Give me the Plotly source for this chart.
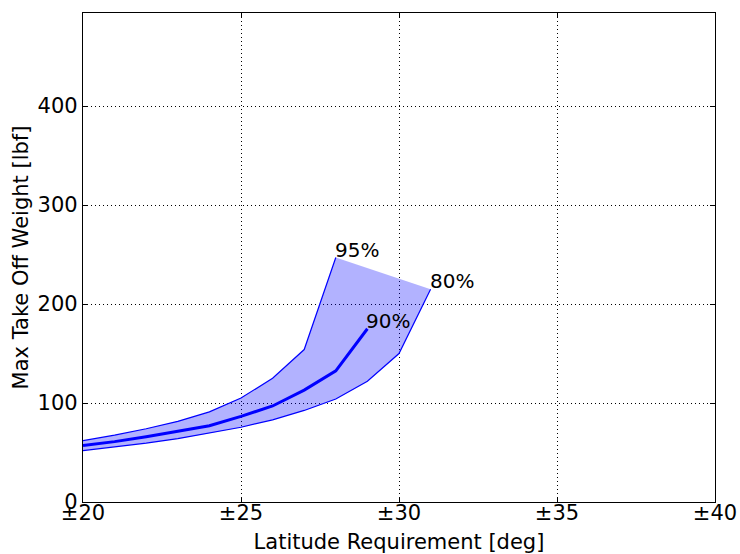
import plotly.graph_objects as go

# Max take-off weight vs. latitude requirement, for three confidence levels
lat_95 = [20, 21, 22, 23, 24, 25, 26, 27, 28]
mtow_95 = [62, 67.5, 74, 81.5, 91, 105, 125, 154, 247]

lat_90 = [20, 21, 22, 23, 24, 25, 26, 27, 28, 29]
mtow_90 = [57, 61, 66, 71.5, 77, 86.5, 97, 113, 132.5, 175]

lat_80 = [20, 21, 22, 23, 24, 25, 26, 27, 28, 29, 30, 31]
mtow_80 = [52, 55.5, 59.5, 64, 69.5, 75.5, 83, 92.5, 104, 122, 150, 215]

x_ticks = [20, 25, 30, 35, 40]
x_tick_labels = ["±20", "±25", "±30", "±35", "±40"]
y_ticks = [0, 100, 200, 300, 400]

BLUE = "#0000ff"
FONT = "DejaVu Sans"

fig = go.Figure()

# Shaded band between the 95% and 80% curves
fig.add_trace(go.Scatter(
    x=lat_95 + lat_80[::-1],
    y=mtow_95 + mtow_80[::-1],
    fill="toself",
    fillcolor="rgba(0,0,255,0.3)",
    line=dict(width=0),
    mode="lines",
    hoverinfo="skip",
    showlegend=False,
))

fig.add_trace(go.Scatter(x=lat_95, y=mtow_95, mode="lines",
                         line=dict(color=BLUE, width=1.2), showlegend=False))
fig.add_trace(go.Scatter(x=lat_80, y=mtow_80, mode="lines",
                         line=dict(color=BLUE, width=1.2), showlegend=False))
fig.add_trace(go.Scatter(x=lat_90, y=mtow_90, mode="lines",
                         line=dict(color=BLUE, width=3), showlegend=False))

# Confidence labels at the end of each curve
for xs, ys, label in [(lat_95, mtow_95, "95%"), (lat_80, mtow_80, "80%"), (lat_90, mtow_90, "90%")]:
    fig.add_annotation(x=xs[-1], y=ys[-1], text=label, showarrow=False,
                       xanchor="left", yanchor="bottom", xshift=-3, yshift=-6,
                       font=dict(family=FONT, size=20, color="black"))

axis_common = dict(
    showline=True, linecolor="black", linewidth=1.3, mirror="ticks",
    ticks="inside", ticklen=5, tickcolor="black",
    showgrid=True, gridcolor="black", gridwidth=1, griddash="1px,3px",
    zeroline=False, automargin=False,
    tickfont=dict(family=FONT, size=21, color="black"),
)

fig.update_xaxes(
    range=[20, 40], tickvals=x_ticks, ticktext=x_tick_labels,
    ticklabelstandoff=-8,
    title=dict(text="Latitude Requirement [deg]", standoff=19,
               font=dict(family=FONT, size=21, color="black")),
    **axis_common,
)
fig.update_yaxes(
    range=[0, 494], tickvals=y_ticks,
    title=dict(text="Max Take Off Weight [lbf]", standoff=3,
               font=dict(family=FONT, size=21, color="black")),
    **axis_common,
)

fig.update_layout(
    width=740, height=554,
    margin=dict(l=83, r=25, t=13, b=52),
    paper_bgcolor="white", plot_bgcolor="white",
)

fig.write_html("out.html")
